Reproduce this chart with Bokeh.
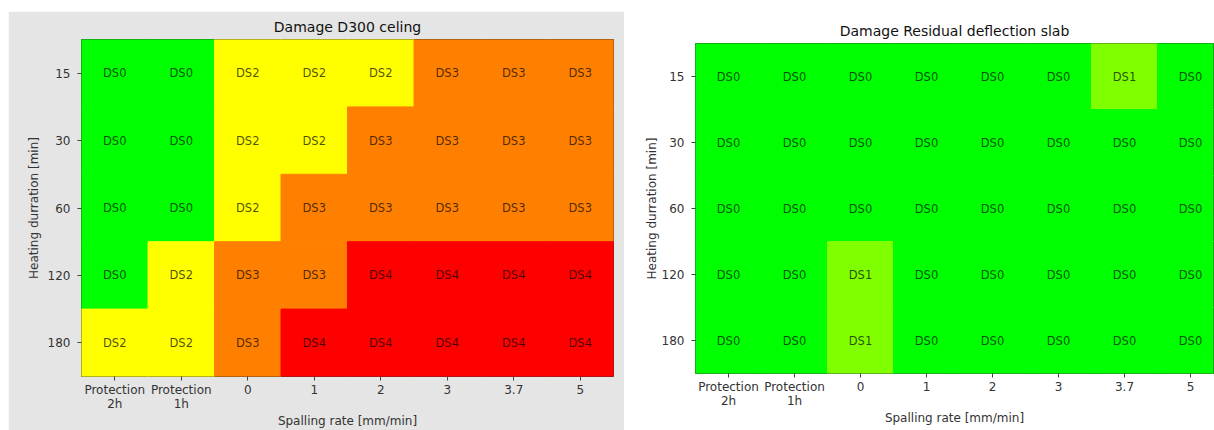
from bokeh.plotting import figure
from bokeh.layouts import row
from bokeh.models import ColumnDataSource, FixedTicker
from bokeh.core.properties import value
from bokeh.embed import file_html
from bokeh.resources import INLINE

spalling_labels = ["Protection\n2h", "Protection\n1h", "0", "1", "2", "3", "3.7", "5"]
heating_labels = ["15", "30", "60", "120", "180"]

# damage states per heating duration row (15, 30, 60, 120, 180 min)
d300_15 = ["DS0", "DS0", "DS2", "DS2", "DS2", "DS3", "DS3", "DS3"]
d300_30 = ["DS0", "DS0", "DS2", "DS2", "DS3", "DS3", "DS3", "DS3"]
d300_60 = ["DS0", "DS0", "DS2", "DS3", "DS3", "DS3", "DS3", "DS3"]
d300_120 = ["DS0", "DS2", "DS3", "DS3", "DS4", "DS4", "DS4", "DS4"]
d300_180 = ["DS2", "DS2", "DS3", "DS4", "DS4", "DS4", "DS4", "DS4"]

slab_15 = ["DS0", "DS0", "DS0", "DS0", "DS0", "DS0", "DS1", "DS0"]
slab_30 = ["DS0", "DS0", "DS0", "DS0", "DS0", "DS0", "DS0", "DS0"]
slab_60 = ["DS0", "DS0", "DS0", "DS0", "DS0", "DS0", "DS0", "DS0"]
slab_120 = ["DS0", "DS0", "DS1", "DS0", "DS0", "DS0", "DS0", "DS0"]
slab_180 = ["DS0", "DS0", "DS1", "DS0", "DS0", "DS0", "DS0", "DS0"]

ds_colors = {"DS0": "#00ff00", "DS1": "#80ff00", "DS2": "#ffff00",
             "DS3": "#ff8000", "DS4": "#ff0000"}

FONT = "DejaVu Sans"


def make_source(rows):
    xs, ys, states, colors = [], [], [], []
    for yi, r in enumerate(rows):
        for xi, s in enumerate(r):
            xs.append(xi)
            ys.append(yi)
            states.append(s)
            colors.append(ds_colors[s])
    return ColumnDataSource(dict(x=xs, y=ys, state=states, color=colors))


def make_fig(title, rows, border_fill, x_end, frame_w, frame_h,
             mb_left, mb_top, mb_bottom, mb_right, margin, ylab_standoff):
    p = figure(title=title, x_range=(-0.5, x_end), y_range=(4.5, -0.5),
               frame_width=frame_w, frame_height=frame_h,
               min_border_left=mb_left, min_border_right=mb_right,
               min_border_top=mb_top, min_border_bottom=mb_bottom,
               output_backend="svg", toolbar_location=None)
    p.margin = margin
    src = make_source(rows)
    p.rect(x="x", y="y", width=1, height=1, source=src, fill_color="color",
           line_color="color", line_width=1)
    p.text(x="x", y="y", text="state", source=src, text_align="center",
           text_baseline="middle", text_font_size="11.5px", text_color="black",
           text_alpha=0.7, text_font=value(FONT))
    p.title.text_font = FONT
    p.title.text_font_size = "14px"
    p.title.text_font_style = "normal"
    p.title.align = "center"
    p.title.text_color = "#111111"
    p.title.standoff = 9
    p.border_fill_color = border_fill
    p.background_fill_color = border_fill
    p.outline_line_color = "#333333"
    p.outline_line_width = 1
    p.grid.visible = False
    p.xaxis.ticker = FixedTicker(ticks=list(range(len(spalling_labels))))
    p.xaxis.major_label_overrides = {i: l for i, l in enumerate(spalling_labels)}
    p.yaxis.ticker = FixedTicker(ticks=list(range(len(heating_labels))))
    p.yaxis.major_label_overrides = {i: l for i, l in enumerate(heating_labels)}
    p.xaxis.axis_label = "Spalling rate [mm/min]"
    p.yaxis.axis_label = "Heating durration [min]"
    for ax in (p.xaxis, p.yaxis):
        ax.axis_line_color = None
        ax.minor_tick_line_color = None
        ax.major_tick_out = 4
        ax.major_tick_in = 0
        ax.major_tick_line_color = "#444444"
        ax.major_label_text_font = FONT
        ax.major_label_text_font_size = "12px"
        ax.major_label_text_color = "#333333"
        ax.major_label_text_line_height = 1.0
        ax.axis_label_text_font = FONT
        ax.axis_label_text_font_size = "12px"
        ax.axis_label_text_font_style = "normal"
        ax.axis_label_text_color = "#333333"
    p.xaxis.major_label_standoff = 2
    p.yaxis.major_label_standoff = 7
    p.xaxis.axis_label_standoff = 0
    p.yaxis.axis_label_standoff = ylab_standoff
    return p


p1 = make_fig("Damage D300 celing", [d300_15, d300_30, d300_60, d300_120, d300_180],
              "#e5e5e5", 7.5, 532, 337, 73, 28, 54, 11, (11, 0, 0, 8), 4)
p2 = make_fig("Damage Residual deflection slab",
              [slab_15, slab_30, slab_60, slab_120, slab_180],
              "white", -0.5 + 518 / 66, 518, 330, 71, 28, 54, 1, (15, 0, 0, 0), 0)

layout = row(p1, p2, spacing=0)
open("out.html", "w").write(file_html(layout, INLINE))
